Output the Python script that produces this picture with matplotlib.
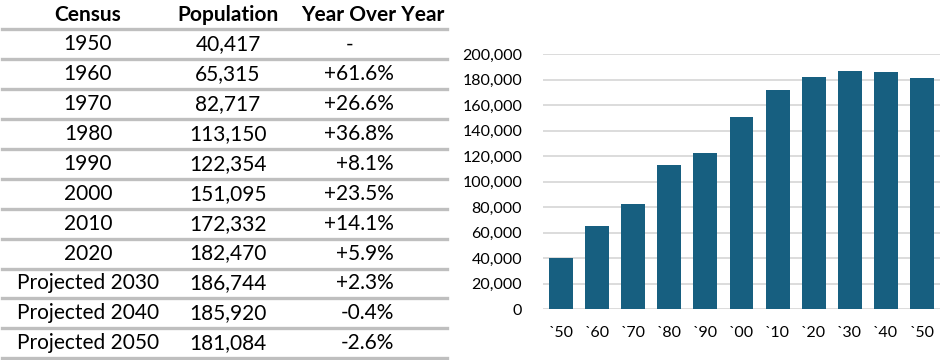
import matplotlib
matplotlib.use("Agg")
import matplotlib.pyplot as plt
from matplotlib.lines import Line2D

plt.rcParams['font.family'] = ['Lato', 'DejaVu Sans']

# Census data
census = ["1950", "1960", "1970", "1980", "1990", "2000", "2010", "2020",
          "Projected 2030", "Projected 2040", "Projected 2050"]
population = [40417, 65315, 82717, 113150, 122354, 151095, 172332, 182470,
              186744, 185920, 181084]
decade_labels = ["`50", "`60", "`70", "`80", "`90", "`00", "`10", "`20",
                 "`30", "`40", "`50"]
headers = ["Census", "Population", "Year Over Year"]
y_ticks = [0, 20000, 40000, 60000, 80000, 100000, 120000, 140000,
           160000, 180000, 200000]

bar_color = "#175f80"
W, H = 941, 360

fig = plt.figure(figsize=(W / 100, H / 100), dpi=100)

# ---- table (pixel coordinates) ----
tab = fig.add_axes([0, 0, 1, 1])
tab.set_xlim(0, W)
tab.set_ylim(H, 0)
tab.axis("off")

col_census = 88
col_pop = 228
col_yoy_hdr = 373
col_yoy_right = 394
row_h = 29.9
first_line = 29.3
fs_table = 15

tab.text(col_census, 15, headers[0], ha="center", va="center",
         fontsize=fs_table, fontweight="bold")
tab.text(col_pop, 15, headers[1], ha="center", va="center",
         fontsize=fs_table, fontweight="bold")
tab.text(col_yoy_hdr, 15, headers[2], ha="center", va="center",
         fontsize=fs_table, fontweight="bold")

for i, (c, p) in enumerate(zip(census, population)):
    top = first_line + i * row_h
    yc = top + row_h / 2
    tab.add_line(Line2D([2, 447], [top, top], color="#bfbfbf", lw=2.4))
    tab.text(col_census, yc, c, ha="center", va="center", fontsize=fs_table)
    tab.text(col_pop, yc, f"{p:,}", ha="center", va="center", fontsize=fs_table)
    if i == 0:
        tab.text(350, yc, "-", ha="center", va="center", fontsize=fs_table)
    else:
        pct = (p / population[i - 1] - 1) * 100
        tab.text(col_yoy_right, yc, f"{pct:+.1f}%", ha="right", va="center",
                 fontsize=fs_table)
last = first_line + len(census) * row_h
tab.add_line(Line2D([2, 447], [last, last], color="#bfbfbf", lw=2.4))

# ---- bar chart ----
left, right = 543, 940
top_px, bot_px = 54.3, 309.3
ax = fig.add_axes([left / W, (H - bot_px) / H, (right - left) / W,
                   (bot_px - top_px) / H])
x = list(range(len(population)))
ax.bar(x, population, width=0.66, color=bar_color, zorder=3)
ax.set_xlim(-0.5, len(population) - 0.5)
ax.set_ylim(0, 200000)
ax.set_yticks(y_ticks)
ax.set_yticklabels([f"{v:,}" for v in y_ticks])
ax.set_xticks(x)
ax.set_xticklabels(decade_labels)
ax.yaxis.grid(True, color="#d9d9d9", lw=1.3, zorder=0)
ax.set_axisbelow(True)
for s in ax.spines.values():
    s.set_visible(False)
ax.tick_params(axis="both", length=0, labelsize=11.5, colors="#000000")
ax.tick_params(axis="y", pad=15)
ax.tick_params(axis="x", pad=12)

fig.savefig("out.png", dpi=100)
